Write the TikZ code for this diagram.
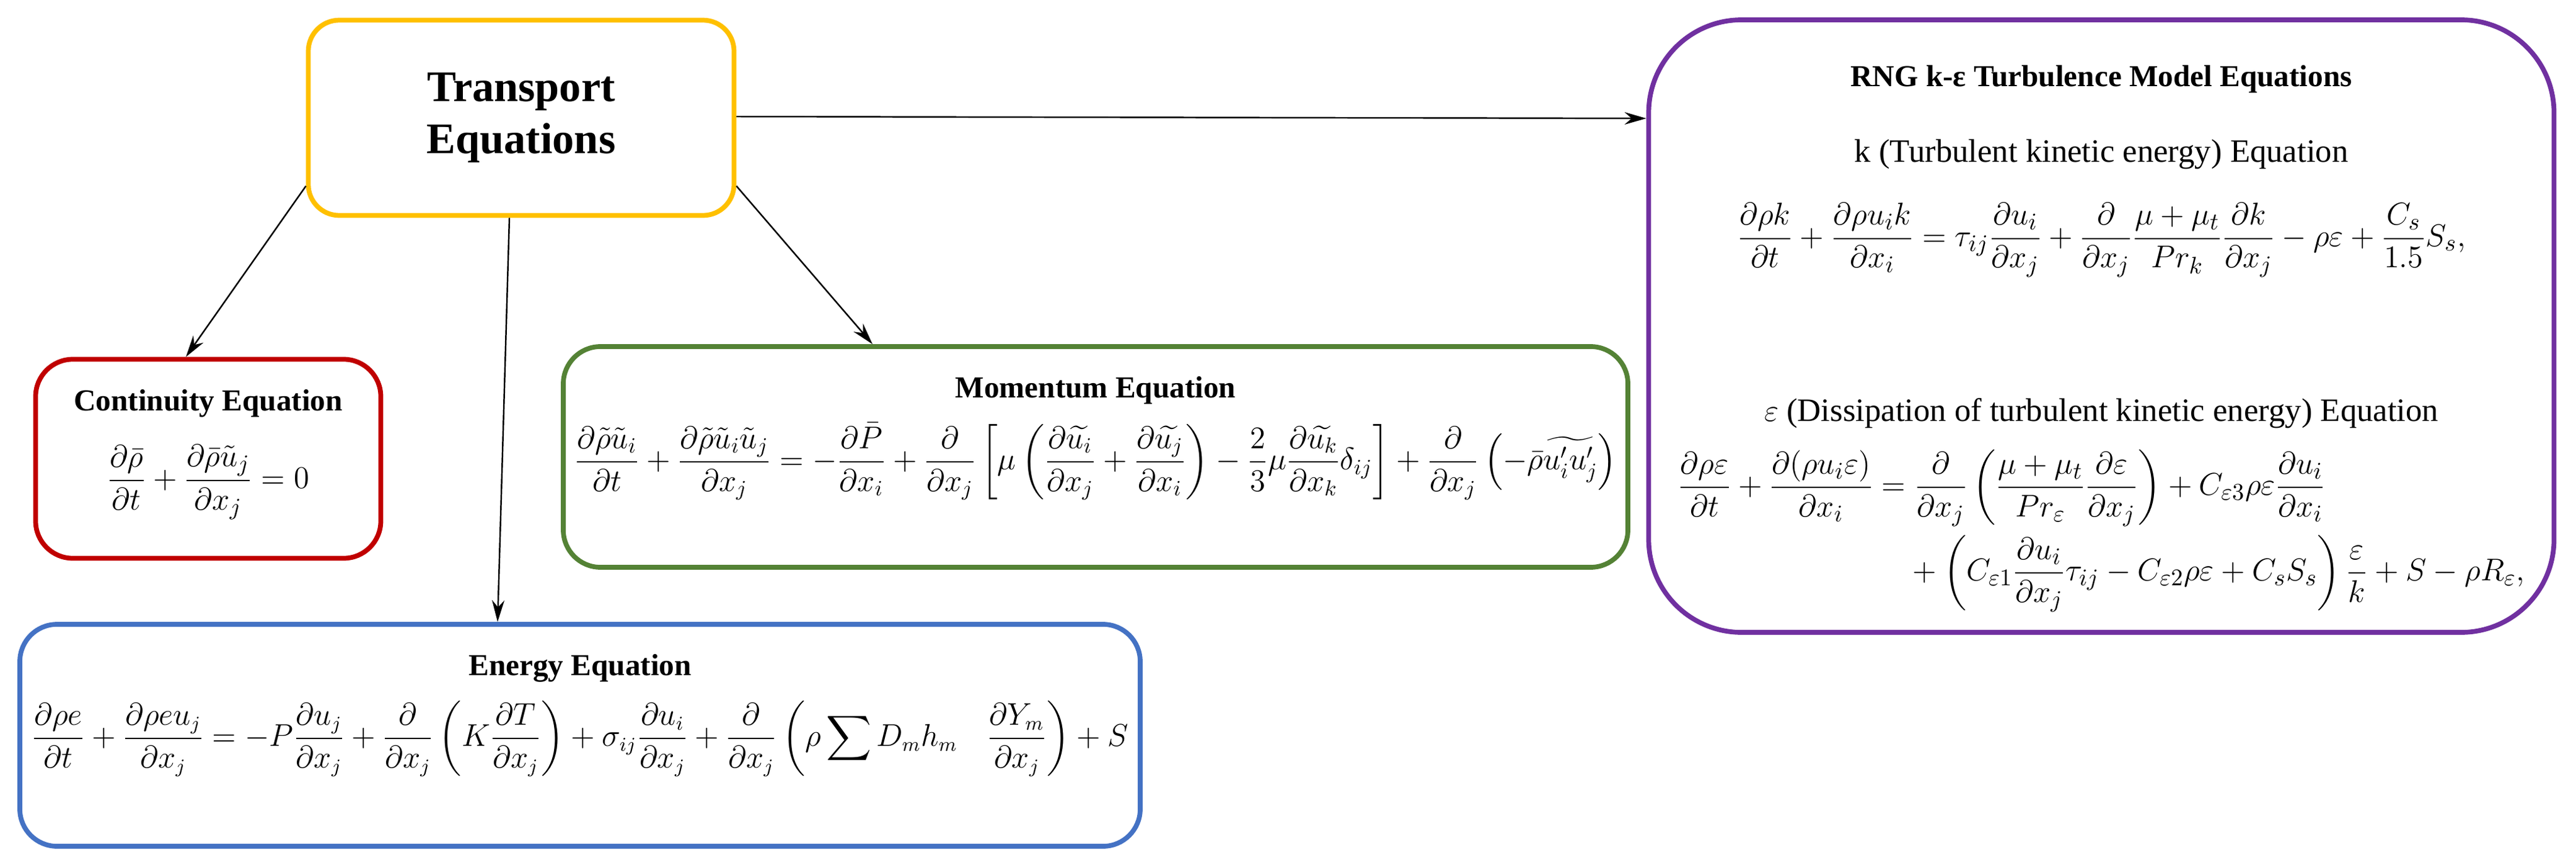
\documentclass[tikz,border=0pt]{standalone}
\usepackage{amsmath}
\usepackage{fontspec}
\setmainfont{Liberation Serif}
\usetikzlibrary{shapes,arrows.meta,positioning,calc}
\definecolor{boxyellow}{RGB}{255,192,0}
\definecolor{boxred}{RGB}{192,0,0}
\definecolor{boxgreen}{RGB}{84,130,53}
\definecolor{boxblue}{RGB}{68,114,196}
\definecolor{boxpurple}{RGB}{112,48,160}
\tikzset{
  eqbox/.style={draw, rectangle, rounded corners=0.6cm, line width=2.2pt, align=center, inner sep=0pt},
  link/.style={black, line width=0.7pt, -{Stealth[length=0.35cm,width=0.2cm]}},
  eqfont/.style={font=\fontsize{15}{18}\selectfont},
  smallfont/.style={font=\fontsize{13.5}{16}\selectfont},
  ttl/.style={font=\fontsize{14}{17}\selectfont\bfseries}
}
\begin{document}
\begin{tikzpicture}
       \useasboundingbox (0,0) rectangle (41.57,-13.91);
       %Defining nodes
       \node[eqbox, draw=boxyellow, rounded corners=0.5cm, minimum width=6.87cm, minimum height=3.15cm, font=\fontsize{20}{24}\selectfont\bfseries](Transport) at (8.41,-1.90) {Transport\\Equations};

       \node[eqbox, draw=boxred, minimum width=5.57cm, minimum height=3.21cm](Continuity) at (3.36,-7.40) {};
       \node[ttl, below=0.4cm of Continuity.north](ContTitle){Continuity Equation};
       \node[eqfont, below=0.2cm of ContTitle](ContEq){$\displaystyle \frac{\partial\bar\rho}{\partial t}+\frac{\partial\bar\rho\tilde u_j}{\partial x_j}=0$};

       \node[eqbox, draw=boxgreen, minimum width=17.18cm, minimum height=3.56cm](Momentum) at (17.68,-7.37) {};
       \node[ttl, below=0.4cm of Momentum.north](MomTitle){Momentum Equation};
       \node[font=\fontsize{13.8}{17}\selectfont, below=0.05cm of MomTitle](MomEq){$\displaystyle \frac{\partial\tilde\rho\tilde u_i}{\partial t}+\frac{\partial\tilde\rho\tilde u_i\tilde u_j}{\partial x_j}=-\frac{\partial\bar P}{\partial x_i}+\frac{\partial}{\partial x_j}\left[\mu\left(\frac{\partial\widetilde{u_i}}{\partial x_j}+\frac{\partial\widetilde{u_j}}{\partial x_i}\right)-\frac{2}{3}\mu\frac{\partial\widetilde{u_k}}{\partial x_k}\delta_{ij}\right]+\frac{\partial}{\partial x_j}\left(-\bar\rho\widetilde{u_i'u_j'}\right)$};

       \node[eqbox, draw=boxblue, minimum width=18.08cm, minimum height=3.58cm](Energy) at (9.36,-11.86) {};
       \node[ttl, below=0.4cm of Energy.north](EnTitle){Energy Equation};
       \node[smallfont, below=0.05cm of EnTitle](EnEq){$\displaystyle \frac{\partial\rho e}{\partial t}+\frac{\partial\rho e u_j}{\partial x_j}=-P\frac{\partial u_j}{\partial x_j}+\frac{\partial}{\partial x_j}\left(K\frac{\partial T}{\partial x_j}\right)+\sigma_{ij}\frac{\partial u_i}{\partial x_j}+\frac{\partial}{\partial x_j}\left(\rho\sum D_m h_m\quad\frac{\partial Y_m}{\partial x_j}\right)+S$};

       \node[eqbox, draw=boxpurple, rounded corners=1.5cm, minimum width=14.61cm, minimum height=9.88cm](RNG) at (33.91,-5.26) {};
       \node[ttl, below=0.65cm of RNG.north](RngTitle){RNG k-ε Turbulence Model Equations};
       \node[font=\fontsize{15}{18}\selectfont, below=0.5cm of RngTitle](KTitle){k (Turbulent kinetic energy) Equation};
       \node[eqfont, below=0.3cm of KTitle](KEq){$\displaystyle \frac{\partial\rho k}{\partial t}+\frac{\partial\rho u_i k}{\partial x_i}=\tau_{ij}\frac{\partial u_i}{\partial x_j}+\frac{\partial}{\partial x_j}\frac{\mu+\mu_t}{Pr_k}\frac{\partial k}{\partial x_j}-\rho\varepsilon+\frac{C_s}{1.5}S_s,$};
       \node[font=\fontsize{15}{18}\selectfont, below=1.7cm of KEq](ETitle){$\varepsilon$ (Dissipation of turbulent kinetic energy) Equation};
       \node[eqfont, below=0.1cm of ETitle](EEq){$\displaystyle \begin{aligned}\frac{\partial\rho\varepsilon}{\partial t}+\frac{\partial(\rho u_i\varepsilon)}{\partial x_i}&=\frac{\partial}{\partial x_j}\left(\frac{\mu+\mu_t}{Pr_\varepsilon}\frac{\partial\varepsilon}{\partial x_j}\right)+C_{\varepsilon3}\rho\varepsilon\frac{\partial u_i}{\partial x_i}\\&\quad+\left(C_{\varepsilon1}\frac{\partial u_i}{\partial x_j}\tau_{ij}-C_{\varepsilon2}\rho\varepsilon+C_sS_s\right)\frac{\varepsilon}{k}+S-\rho R_\varepsilon,\end{aligned}$};

       %Drawing Diagram
       \draw[link] ([yshift=-1.1cm]Transport.west) -- ([xshift=-0.36cm]Continuity.north);
       \draw[link] ([xshift=-0.19cm]Transport.south) -- ([xshift=-1.33cm]Energy.north);
       \draw[link] ([yshift=-1.1cm]Transport.east) -- ([xshift=-3.6cm]Momentum.north);
       \draw[link] ([yshift=0.02cm]Transport.east) -- ([yshift=3.35cm]RNG.west);
\end{tikzpicture}
\end{document}
